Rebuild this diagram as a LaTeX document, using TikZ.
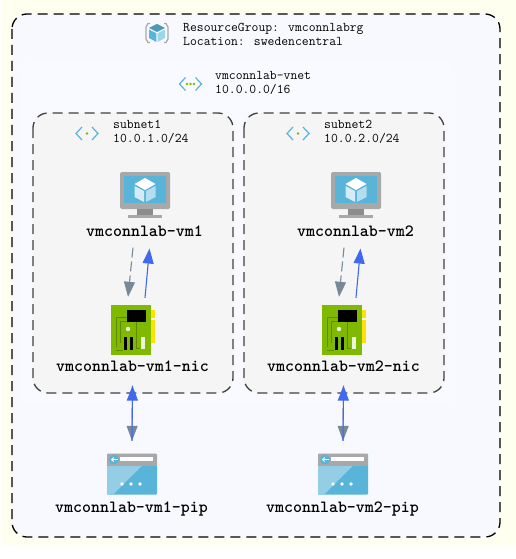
\documentclass[tikz,border=0pt]{standalone}
\usepackage{fontspec}
\usetikzlibrary{arrows.meta,positioning}
\definecolor{cream}{RGB}{255,255,240}
\definecolor{rgfill}{RGB}{248,249,255}
\definecolor{vnetfill}{RGB}{249,250,255}
\definecolor{subfill}{RGB}{245,245,245}
\definecolor{azure}{RGB}{89,180,217}
\definecolor{azlight}{RGB}{156,214,236}
\definecolor{azgreen}{RGB}{127,186,0}
\definecolor{azdark}{RGB}{94,138,0}
\definecolor{azgray}{RGB}{168,168,168}
\definecolor{linkblue}{RGB}{65,105,238}
\definecolor{linkgray}{RGB}{119,136,153}
\tikzset{
  groupbox/.style={line width=1.3pt, dash pattern=on 10pt off 6pt, rounded corners=15pt},
  info/.style={anchor=west, align=left, inner sep=0pt, font=\ttfamily\fontsize{13.3}{14}\selectfont},
  resname/.style={inner sep=0pt, font=\ttfamily\bfseries\fontsize{17.1}{17}\selectfont},
  iconbox/.style={inner sep=0pt, minimum width=#1},
  tipped/.style={-{Triangle[length=15pt,width=11pt]}, line width=1.1pt},
  pics/vmicon/.style={code={
    \fill[azgray, rounded corners=1.5pt] (-25,-23) rectangle (25,14);
    \fill[azure] (-21,-19) rectangle (21,8);
    \fill[black!45] (-8,14) rectangle (8,20);
    \fill[azgray] (-17,20) rectangle (17,23);
    \fill[white] (0,-17) -- (10.5,-11) -- (0,-5) -- (-10.5,-11) -- cycle;
    \fill[white!75!azure] (-10.5,-9) -- (-1,-4) -- (-1,7) -- (-10.5,2) -- cycle;
    \fill[white!55!azure] (10.5,-9) -- (1,-4) -- (1,7) -- (10.5,2) -- cycle;
  }},
  pics/nicicon/.style={code={
    \fill[yellow!85!orange] (20,-20) rectangle (24,-12);
    \fill[yellow!85!orange] (20,-10) rectangle (24,13);
    \fill[azgreen] (-20,-25) rectangle (20,25);
    \draw[azdark, line width=1pt] (-15,17) -- (-15,-13) -- (-4,-13);
    \draw[azdark, line width=1pt] (-11,13) -- (-11,-9) -- (-4,-9);
    \draw[azdark, line width=1pt] (5,-8) -- (5,18) -- (9,18);
    \draw[azdark, line width=1pt] (-15,20) -- (-8,20);
    \fill[black] (-4,-20) rectangle (15,-8);
    \fill[white!85!azgreen] (-3,-1) circle (2.2);
    \fill[black] (-7,7) rectangle (-4,20);
    \fill[black] (-1,7) rectangle (2,20);
    \fill[white!85!azgreen] (10,7) rectangle (14,19);
  }},
  pics/pipicon/.style={code={
    \fill[azure, rounded corners=1pt] (-25,-20) rectangle (25,21);
    \fill[azure!65!white] (-25,-8) -- (10,-8) -- (-19,21) -- (-25,21) -- cycle;
    \fill[azgray] (-25,-20) rectangle (25,-7.5);
    \fill[azure] (-18,-14) circle (5);
    \draw[white, line width=1pt, -{Straight Barb[length=2pt,width=4pt]}] (-14.5,-14) -- (-21,-14);
    \fill[white] (-12,-16.5) rectangle (21,-12.5);
    \foreach \d in {-10,-1,8} \fill[white] (\d,10.5) circle (1.8);
  }},
  pics/rgicon/.style={code={
    \draw[azgray, line width=1.2pt] (-7,-9.5) -- (-9,-9.5) -- (-11,-6) -- (-11,6) -- (-9,9.5) -- (-7,9.5);
    \draw[azgray, line width=1.2pt] (7,-9.5) -- (9,-9.5) -- (11,-6) -- (11,6) -- (9,9.5) -- (7,9.5);
    \fill[azure!85!black] (0,-9) -- (8,-5) -- (0,-1) -- (-8,-5) -- cycle;
    \fill[azure] (-8,-3.5) -- (-0.7,0.3) -- (-0.7,9) -- (-8,5) -- cycle;
    \fill[azlight] (8,-3.5) -- (0.7,0.3) -- (0.7,9) -- (8,5) -- cycle;
  }},
  pics/neticon/.style={code={
    \draw[azure, line width=1.2pt] (-5,-6.5) -- (-11,0) -- (-5,6.5);
    \draw[azure, line width=1.2pt] (5,-6.5) -- (11,0) -- (5,6.5);
    \foreach \d in {#1} \fill[azgreen] (\d,0) circle (1.4);
  }},
}
\begin{document}
\begin{tikzpicture}[x=1pt,y=-1pt]
\useasboundingbox (0,0) rectangle (516,559);
\fill[cream] (2,0) rectangle (516,546);
\draw[groupbox, draw=black, fill=rgfill] (12,14) rectangle (500,537);
\fill[vnetfill, draw=white!60!vnetfill, rounded corners=12pt] (22,62) rectangle (455,403);
\pic at (157,33) {rgicon};
\node[info] (rgtext) at (183,34) {ResourceGroup: vmconnlabrg\\Location: swedencentral};
\pic at (190.5,84) {neticon={-3.5,0,3.5}};
\node[info] (vnettext) at (215,83) {vmconnlab-vnet\\10.0.0.0/16};
\foreach \n/\dx in {1/0,2/211} {
  \draw[groupbox, draw=black!75, fill=subfill] (33+\dx,113) rectangle (233+\dx,393);
  \pic at (87+\dx,133.5) {neticon={0}};
  \node[info] (subtext\n) at (113+\dx,132) {subnet\n\\10.0.\n.0/24};
  \node[iconbox=50pt, minimum height=46pt] (vm\n) at (145+\dx,195) {};
  \pic at (vm\n) {vmicon};
  \node[resname] (vmname\n) at (144.5+\dx,231) {vmconnlab-vm\n};
  \node[iconbox=40pt, minimum height=50pt] (nic\n) at (131+\dx,330) {};
  \pic at (nic\n) {nicicon};
  \node[resname] (nicname\n) at (132.5+\dx,366) {vmconnlab-vm\n-nic};
  \node[iconbox=50pt, minimum height=41pt] (pip\n) at (132+\dx,473.5) {};
  \pic at (pip\n) {pipicon};
  \node[resname] (pipname\n) at (131.5+\dx,509) {vmconnlab-vm\n-pip};
  % links
  \draw[tipped, linkgray, dash pattern=on 10pt off 4pt] ([shift={(-11.5,11)}]vmname\n.south) -- ([shift={(-3,-8)}]nic\n.north);
  \draw[tipped, linkblue] ([shift={(14,-7)}]nic\n.north) -- ([shift={(5,12)}]vmname\n.south);
  \draw[tipped, linkgray] ([shift={(0,14)}]nicname\n.south) -- ([shift={(0,-12)}]pip\n.north);
  \draw[tipped, linkblue] ([shift={(0,-12)}]pip\n.north) -- ([shift={(0,14)}]nicname\n.south);
}
\end{tikzpicture}
\end{document}
